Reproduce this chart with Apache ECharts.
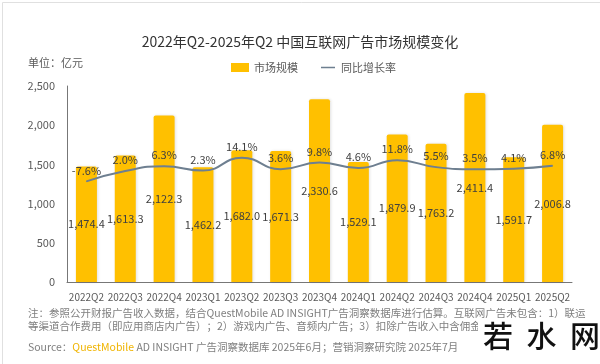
<!DOCTYPE html>
<html>
<head>
<meta charset="utf-8">
<style>html,body{margin:0;padding:0;background:#fff;}#c{width:600px;height:364px;}</style>
<script src="https://cdn.jsdelivr.net/npm/echarts@6/dist/echarts.min.js"></script>
</head>
<body>
<div id="c"></div>
<script>
var categories = ['2022Q2','2022Q3','2022Q4','2023Q1','2023Q2','2023Q3','2023Q4','2024Q1','2024Q2','2024Q3','2024Q4','2025Q1','2025Q2'];
var marketSize = [1474.4,1613.3,2122.3,1462.2,1682.0,1671.3,2330.6,1529.1,1879.9,1763.2,2411.4,1591.7,2006.8];
var growthRate = [-7.6,2.0,6.3,2.3,14.1,3.6,9.8,4.6,11.8,5.5,3.5,4.1,6.8];
var yTicks = [0,500,1000,1500,2000,2500];

var FONT = '"Noto Sans CJK SC","Noto Sans",sans-serif';
var chart = echarts.init(document.getElementById('c'));
chart.setOption({
  backgroundColor: '#fff',
  animation: false,
  textStyle: {fontFamily: FONT},
  title: {
    text: '2022年Q2-2025年Q2 中国互联网广告市场规模变化',
    left: 'center', top: 30,
    textStyle: {fontSize: 14, fontWeight: 'normal', color: '#333', fontFamily: FONT}
  },
  legend: {
    top: 57, left: 226,
    itemWidth: 18, itemHeight: 9, itemGap: 20,
    textStyle: {fontSize: 11, color: '#595959', fontFamily: FONT},
    data: [
      {name: '市场规模', icon: 'rect'},
      {name: '同比增长率', icon: 'path://M0,0 L0.01,0 L0.01,0.01 Z M0,9 L0.01,9 L0.01,8.99 Z M3,3.8 L17,3.8 L17,5.3 L3,5.3 Z M18,0 L18,0.01 L17.99,0 Z',
        itemStyle: {color: '#6E7F90'}}
    ]
  },
  grid: {left: 67, right: 28, top: 86, bottom: 82, containLabel: false},
  xAxis: {
    type: 'category', data: categories,
    axisLine: {lineStyle: {color: '#777', width: 1}},
    axisTick: {show: false},
    axisLabel: {interval: 0, fontSize: 10, color: '#595959', margin: 10, fontFamily: FONT}
  },
  yAxis: [{
    type: 'value', min: yTicks[0], max: yTicks[yTicks.length-1], interval: 500,
    axisLine: {show: true, lineStyle: {color: '#777'}},
    axisTick: {show: false},
    splitLine: {show: false},
    axisLabel: {fontSize: 11, color: '#595959', margin: 12, fontFamily: FONT,
      formatter: function(v){ return v.toLocaleString('en-US'); }}
  }, {
    type: 'value', min: -100, max: 80, show: false, splitLine: {show: false}
  }],
  series: [{
    name: '市场规模', type: 'bar', data: marketSize, barWidth: 21,
    itemStyle: {color: '#FFC000', borderRadius: [2,2,0,0],
      shadowColor: 'rgba(0,0,0,0.12)', shadowBlur: 3, shadowOffsetX: 1},
    label: {show: true, position: 'inside', fontSize: 11, color: '#404040', fontFamily: FONT,
      formatter: function(p){ return p.value.toLocaleString('en-US',{minimumFractionDigits:1, maximumFractionDigits:1}); }}
  }, {
    name: '同比增长率', type: 'line', yAxisIndex: 1, data: growthRate, smooth: true,
    symbol: 'circle', symbolSize: 1,
    lineStyle: {color: '#6E7F90', width: 2},
    itemStyle: {color: '#6E7F90'},
    label: {show: true, position: 'top', distance: 5, fontSize: 11, color: '#404040', fontFamily: FONT,
      formatter: function(p){ return p.value.toFixed(1) + '%'; }}
  }],
  graphic: [
    {type: 'rect', left: 0, top: 0, shape: {width: 599, height: 363}, style: {fill: 'none', stroke: '#e0e0e0', lineWidth: 1}, z: -1},
    {type: 'text', left: 28, top: 57, style: {text: '单位：亿元', fontSize: 11, fill: '#595959', fontFamily: FONT}},
    {type: 'text', left: 28, top: 308, style: {text: '注：参照公开财报广告收入数据，结合QuestMobile AD INSIGHT广告洞察数据库进行估算。互联网广告未包含：1）联运', fontSize: 10.5, fill: '#7f7f7f', fontFamily: FONT}},
    {type: 'text', left: 28, top: 321, style: {text: '等渠道合作费用（即应用商店内广告）；2）游戏内广告、音频内广告；3）扣除广告收入中含佣金的', fontSize: 10.5, fill: '#7f7f7f', fontFamily: FONT}},
    {type: 'text', left: 28, top: 342, style: {rich: {a: {fontSize: 10.5, fill: '#7f7f7f', fontFamily: FONT}, b: {fontSize: 10.5, fill: '#F0B400', fontFamily: FONT}},
      text: '{a|Source：}{b|QuestMobile}{a| AD INSIGHT 广告洞察数据库 2025年6月；营销洞察研究院 2025年7月}'}},
    {type: 'rect', left: 478, top: 318, shape: {width: 121, height: 45}, style: {fill: '#fff'}},
    {type: 'text', left: 483, top: 321, style: {text: '若  水  网', fontSize: 30, fontWeight: 500, fill: '#111', fontFamily: FONT}}
  ]
});
</script>
</body>
</html>
